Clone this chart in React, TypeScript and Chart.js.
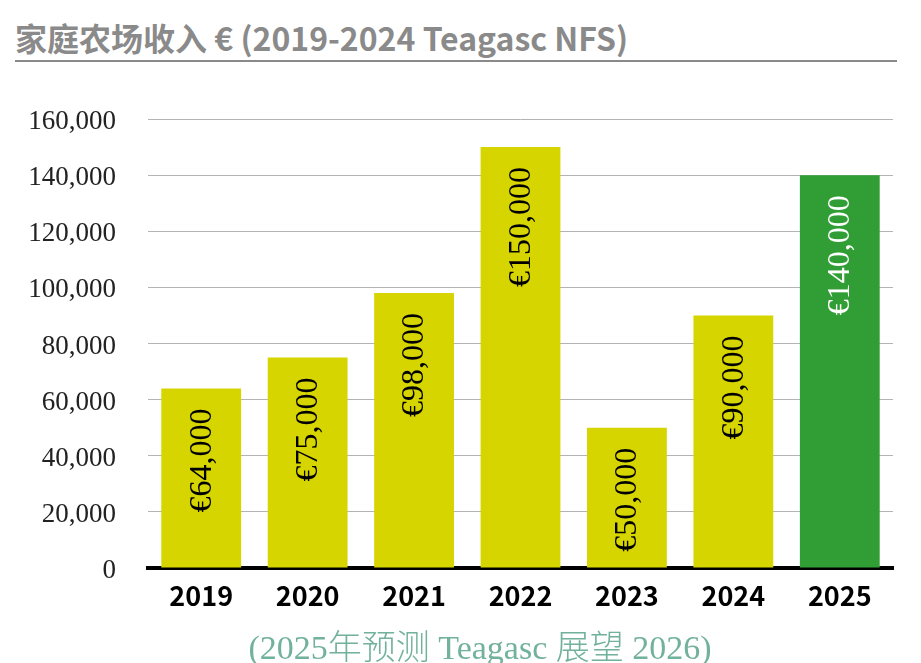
import React, { useEffect, useRef } from "react";
import { Chart, registerables } from "chart.js";

Chart.register(...registerables);

const TITLE = "家庭农场收入 € (2019-2024 Teagasc NFS)";
const FOOTNOTE = "(2025年预测 Teagasc 展望 2026)";
const YEARS = ["2019", "2020", "2021", "2022", "2023", "2024", "2025"];
const INCOME = [64000, 75000, 98000, 150000, 50000, 90000, 140000];
const BAR_COLORS = ["#d6d500", "#d6d500", "#d6d500", "#d6d500", "#d6d500", "#d6d500", "#319e35"];
const LABEL_COLORS = ["#000000", "#000000", "#000000", "#000000", "#000000", "#000000", "#ffffff"];
const Y_MAX = 160000;
const Y_STEP = 20000;

const fmt = (v: number) => v.toLocaleString("en-US");

const barLabelPlugin = {
  id: "barLabels",
  afterDatasetsDraw(chart: any) {
    const ctx = chart.ctx;
    const meta = chart.getDatasetMeta(0);
    ctx.save();
    ctx.font = "32px 'Liberation Serif', serif";
    ctx.textAlign = "right";
    ctx.textBaseline = "middle";
    meta.data.forEach((bar: any, i: number) => {
      ctx.save();
      ctx.translate(bar.x, bar.y + 20);
      ctx.rotate(-Math.PI / 2);
      ctx.fillStyle = LABEL_COLORS[i];
      ctx.fillText("€" + fmt(INCOME[i]), 0, 1);
      ctx.restore();
    });
    ctx.restore();
  },
};

export default function App() {
  const canvasRef = useRef<HTMLCanvasElement | null>(null);

  useEffect(() => {
    if (!canvasRef.current) return;
    const chart = new Chart(canvasRef.current, {
      type: "bar",
      data: {
        labels: YEARS,
        datasets: [
          {
            data: INCOME,
            backgroundColor: BAR_COLORS,
            borderWidth: 0,
            barPercentage: 0.75,
            categoryPercentage: 1,
          },
        ],
      },
      options: {
        animation: false,
        responsive: true,
        maintainAspectRatio: false,
        layout: { padding: { top: 119, left: 0, right: 28, bottom: 0 } },
        plugins: {
          legend: { display: false },
          tooltip: { enabled: false },
          title: { display: false },
        },
        scales: {
          x: {
            grid: { display: false, drawTicks: false },
            border: { display: true, color: "#000000", width: 4 },
            ticks: {
              padding: 12,
              color: "#000000",
              font: { family: "'Noto Sans CJK SC', sans-serif", size: 27, weight: "bold" },
            },
            afterFit(scale: any) {
              scale.height = 95;
            },
          },
          y: {
            min: 0,
            max: Y_MAX,
            grid: { color: "#b3b3b3", lineWidth: 1, drawTicks: false },
            border: { display: false },
            ticks: {
              stepSize: Y_STEP,
              padding: 32,
              labelOffset: 3,
              color: "#222222",
              font: { family: "'Liberation Serif', serif", size: 27 },
              callback: (v: any) => fmt(Number(v)),
            },
            afterFit(scale: any) {
              scale.width = 148;
            },
          },
        },
      },
      plugins: [barLabelPlugin],
    });
    return () => chart.destroy();
  }, []);

  return (
    <div
      style={{
        position: "fixed",
        top: 0,
        left: 0,
        width: 921,
        height: 663,
        overflow: "hidden",
        background: "#ffffff",
      }}
    >
      <div
        style={{
          position: "absolute",
          left: 15,
          top: 17,
          fontFamily: "'Noto Sans CJK SC', sans-serif",
          fontWeight: 700,
          fontSize: 32,
          lineHeight: "40px",
          color: "#8a8a8a",
          whiteSpace: "nowrap",
        }}
      >
        {TITLE}
      </div>
      <div
        style={{
          position: "absolute",
          left: 15,
          top: 60,
          width: 882,
          height: 2,
          background: "#8a8a8a",
        }}
      />
      <div style={{ position: "absolute", left: 0, top: 0, width: 921, height: 663 }}>
        <canvas ref={canvasRef} />
      </div>
      <div
        style={{
          position: "absolute",
          left: 0,
          width: 960,
          top: 628,
          textAlign: "center",
          fontFamily: "'Liberation Serif', 'Noto Sans CJK SC', serif",
          fontWeight: 300,
          fontSize: 34,
          lineHeight: "40px",
          color: "#72b19c",
          whiteSpace: "nowrap",
        }}
      >
        {FOOTNOTE}
      </div>
    </div>
  );
}
